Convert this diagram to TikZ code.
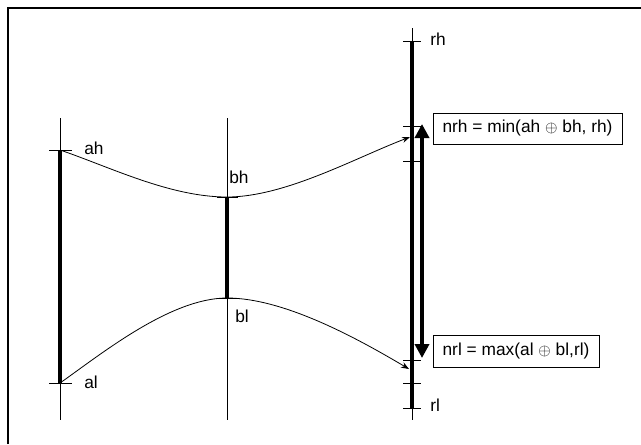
\documentclass[tikz,border=0pt]{standalone}
\usepackage{fontspec}
\setmainfont{Liberation Sans}
\usetikzlibrary{arrows.meta}
\begin{document}
\begin{tikzpicture}[x=0.75pt,y=-0.75pt,
  outerframe/.style={line width=1.2pt},
  axisline/.style={line width=0.6pt},
  thickbar/.style={line width=2.3pt},
  rthickbar/.style={line width=3pt},
  tickline/.style={line width=0.6pt},
  lbl/.style={anchor=base west,inner sep=0pt,font=\fontsize{13}{15}\selectfont},
  formula/.style={draw,line width=0.75pt,inner sep=0pt,font=\fontsize{13}{15}\selectfont},
  linkcurve/.style={line width=0.6pt,-{Stealth[length=6pt,width=4.5pt]}},
  spanarrow/.style={line width=2.8pt,{Triangle[length=10.5pt,width=10.5pt]}-{Triangle[length=10.5pt,width=10.5pt]}}
]
\useasboundingbox (0,0) rectangle (641,444);
\draw[outerframe] (8,444) -- (8,8) -- (641,8);

% coordinates
\coordinate (atop) at (60,118); \coordinate (abot) at (60,420);
\coordinate (ah) at (60,150);   \coordinate (al) at (60,383);
\coordinate (btop) at (227,118); \coordinate (bbot) at (227,420);
\coordinate (bh) at (227,197);  \coordinate (bl) at (227,298);
\coordinate (rtop) at (412,28); \coordinate (rbot) at (412,420);
\coordinate (rh) at (412,41);   \coordinate (rl) at (412,408);
\coordinate (nrhin) at (410,137); \coordinate (nrlin) at (409,369);
\coordinate (uptip) at (422,124); \coordinate (dntip) at (422,358);

% axes
\draw[axisline] (atop) -- (abot);
\draw[axisline] (btop) -- (bbot);
\draw[axisline] (rtop) -- (rbot);
\draw[thickbar] (ah) -- (al);
\draw[thickbar] (bh) -- (bl);
\draw[rthickbar] (rh) -- (rl);

% ticks
\foreach \y in {150,383} \draw[tickline] (49,\y) -- (72,\y);
\foreach \y in {197,298} \draw[tickline] (217,\y) -- (238,\y);
\foreach \y in {41,126,161,360,383,408} \draw[tickline] (403,\y) -- (421,\y);

% labels
\node[lbl] (lah) at (84,154) {ah};
\node[lbl] (lal) at (84,388) {al};
\node[lbl] (lbh) at (229,183) {bh};
\node[lbl] (lbl) at (235,322) {bl};
\node[lbl] (lrh) at (430,45) {rh};
\node[lbl] (lrl) at (430,411) {rl};

% curves
\draw[linkcurve] (ah) .. controls (110,167) and (170,197) .. (bh)
  .. controls (285,197) and (355,158) .. (nrhin);
\draw[linkcurve] (al) .. controls (100,355) and (170,298) .. (bl)
  .. controls (285,298) and (360,340) .. (nrlin);

% range arrow
\draw[spanarrow] (dntip) -- (uptip);

% formulas
\node[formula,minimum width=141.75pt,minimum height=23.25pt] (nrh) at (527.5,128.5) {nrh = min(ah $\oplus$ bh, rh)};
\node[formula,minimum width=124.5pt,minimum height=24pt] (nrl) at (516,351) {nrl = max(al $\oplus$ bl,rl)};
\end{tikzpicture}
\end{document}
